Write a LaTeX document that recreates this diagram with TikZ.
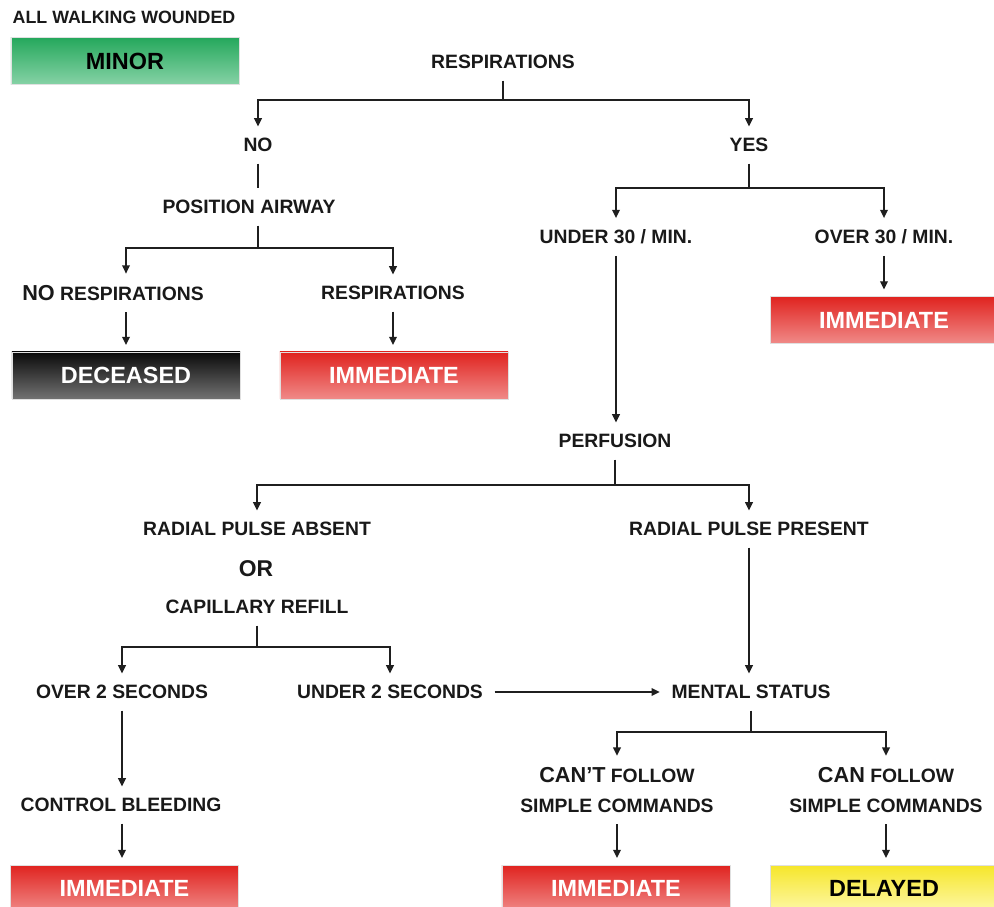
\documentclass[tikz,border=0pt]{standalone}
\usepackage{fontspec}
\setmainfont{Liberation Sans}
\usetikzlibrary{arrows.meta}
\usetikzlibrary{positioning}

\definecolor{redtop}{HTML}{E0231F}
\definecolor{redbot}{HTML}{F08A88}
\definecolor{greentop}{HTML}{25A85C}
\definecolor{greenbot}{HTML}{86D2A6}
\definecolor{greytop}{HTML}{0A0A0A}
\definecolor{greybot}{HTML}{727272}
\definecolor{yellowtop}{HTML}{F6E62A}
\definecolor{yellowbot}{HTML}{FDF8A8}

\tikzset{
  lbl/.style={font=\fontsize{16.5}{19}\selectfont\bfseries, text=black!90,
    inner sep=3pt, outer sep=7pt},
  twoline/.style={lbl, align=center, font=\fontsize{16.5}{25.5}\selectfont\bfseries},
  tag/.style={draw=black!12, minimum width=6.84cm, minimum height=1.41cm,
    outer sep=6pt, font=\fontsize{20}{22}\selectfont\bfseries},
  minorbox/.style={tag, top color=greentop, bottom color=greenbot, text=black},
  deadbox/.style={tag, top color=greytop, bottom color=greybot, text=white!92},
  redbox/.style={tag, top color=redtop, bottom color=redbot, text=white!95},
  delaybox/.style={tag, top color=yellowtop, bottom color=yellowbot, text=black},
  wire/.style={line width=1.2pt, draw=black!88}
}

\begin{document}
\begin{tikzpicture}[x=0.03cm,y=-0.03cm,>={Triangle[length=7pt,width=6.5pt]}]

  \useasboundingbox (0,0) rectangle (994,907);

  % top left
  \node[lbl, font=\fontsize{15.2}{18}\selectfont\bfseries] (walk) at (124,17) {ALL WALKING WOUNDED};
  \node[minorbox] (minor) at (125,61) {MINOR};

  % breathing
  \node[lbl] (resp) at (503,62) {RESPIRATIONS};
  \node[lbl] (no) at (258,145) {NO};
  \node[lbl] (yes) at (749,145) {YES};
  \node[lbl] (airway) at (249,207) {POSITION AIRWAY};
  \node[lbl] (noresp) at (113,293) {{\fontsize{18.5}{19}\selectfont NO} RESPIRATIONS};
  \node[lbl] (resp2) at (393,293) {RESPIRATIONS};
  \node[deadbox] (dead) at (126,375.5) {DECEASED};
  \node[redbox] (imm1) at (394,375.5) {IMMEDIATE};
  \node[lbl] (under30) at (616,237) {UNDER 30 / MIN.};
  \node[lbl] (over30) at (884,237) {OVER 30 / MIN.};
  \node[redbox] (imm2) at (884,320) {IMMEDIATE};

  % perfusion
  \node[lbl] (perf) at (615,441) {PERFUSION};
  \node[lbl] (absent) at (257,529) {RADIAL PULSE ABSENT};
  \node[lbl, font=\fontsize{19.5}{21}\selectfont\bfseries] (or) at (256,569) {OR};
  \node[lbl] (refill) at (257,607) {CAPILLARY REFILL};
  \node[lbl] (present) at (749,529) {RADIAL PULSE PRESENT};
  \node[lbl] (over2) at (122,692) {OVER 2 SECONDS};
  \node[lbl] (under2) at (390,692) {UNDER 2 SECONDS};
  \node[lbl] (bleed) at (121,805) {CONTROL BLEEDING};
  \node[redbox] (imm3) at (124.5,888.5) {IMMEDIATE};

  % mental status
  \node[lbl] (mental) at (751,692) {MENTAL STATUS};
  \node[twoline] (cant) at (617,790) {{\fontsize{18.5}{19}\selectfont CAN'T} FOLLOW\\SIMPLE COMMANDS};
  \node[twoline] (canf) at (886,790) {{\fontsize{18.5}{19}\selectfont CAN} FOLLOW\\SIMPLE COMMANDS};
  \node[redbox] (imm4) at (616,888.5) {IMMEDIATE};
  \node[delaybox] (delayed) at (884,888.5) {DELAYED};

  \coordinate (j1) at (503,100);
  \coordinate (j2) at (258,248);
  \coordinate (j3) at (749,188);
  \coordinate (j4) at (615,485);
  \coordinate (j5) at (257,647);
  \coordinate (j6) at (751,732);

  \draw[wire] (resp) -- (j1);
  \draw[wire,->] (j1) -| (no);
  \draw[wire,->] (j1) -| (yes);
  \draw[wire] (no) -- (no |- airway.north);
  \draw[wire] (j2 |- airway.south) -- (j2);
  \draw[wire,->] (j2) -| (noresp.north -| dead.north);
  \draw[wire,->] (j2) -| (resp2);
  \draw[wire,->] (noresp.south -| dead.north) -- (dead);
  \draw[wire,->] (resp2) -- (resp2 |- imm1.north);

  \draw[wire] (yes) -- (j3);
  \draw[wire,->] (j3) -| (under30);
  \draw[wire,->] (j3) -| (over30);
  \draw[wire,->] (over30) -- (imm2);
  \draw[wire,->] (under30) -- (under30 |- perf.north);

  \draw[wire] (perf) -- (j4);
  \draw[wire,->] (j4) -| (absent);
  \draw[wire,->] (j4) -| (present);
  \draw[wire] (refill) -- (j5);
  \draw[wire,->] (j5) -| (over2);
  \draw[wire,->] (j5) -| (under2);
  \draw[wire,->] (over2) -- (over2 |- bleed.north);
  \draw[wire,->] (bleed.south -| over2) -- (imm3.north -| over2);
  \draw[wire,->] (under2) -- (mental);
  \draw[wire,->] (present) -- (present |- mental.north);

  \draw[wire] (mental) -- (j6);
  \draw[wire,->] (j6) -| (cant);
  \draw[wire,->] (j6) -| (canf);
  \draw[wire,->] (cant) -- (cant |- imm4.north);
  \draw[wire,->] (canf) -- (canf |- delayed.north);

\end{tikzpicture}
\end{document}
